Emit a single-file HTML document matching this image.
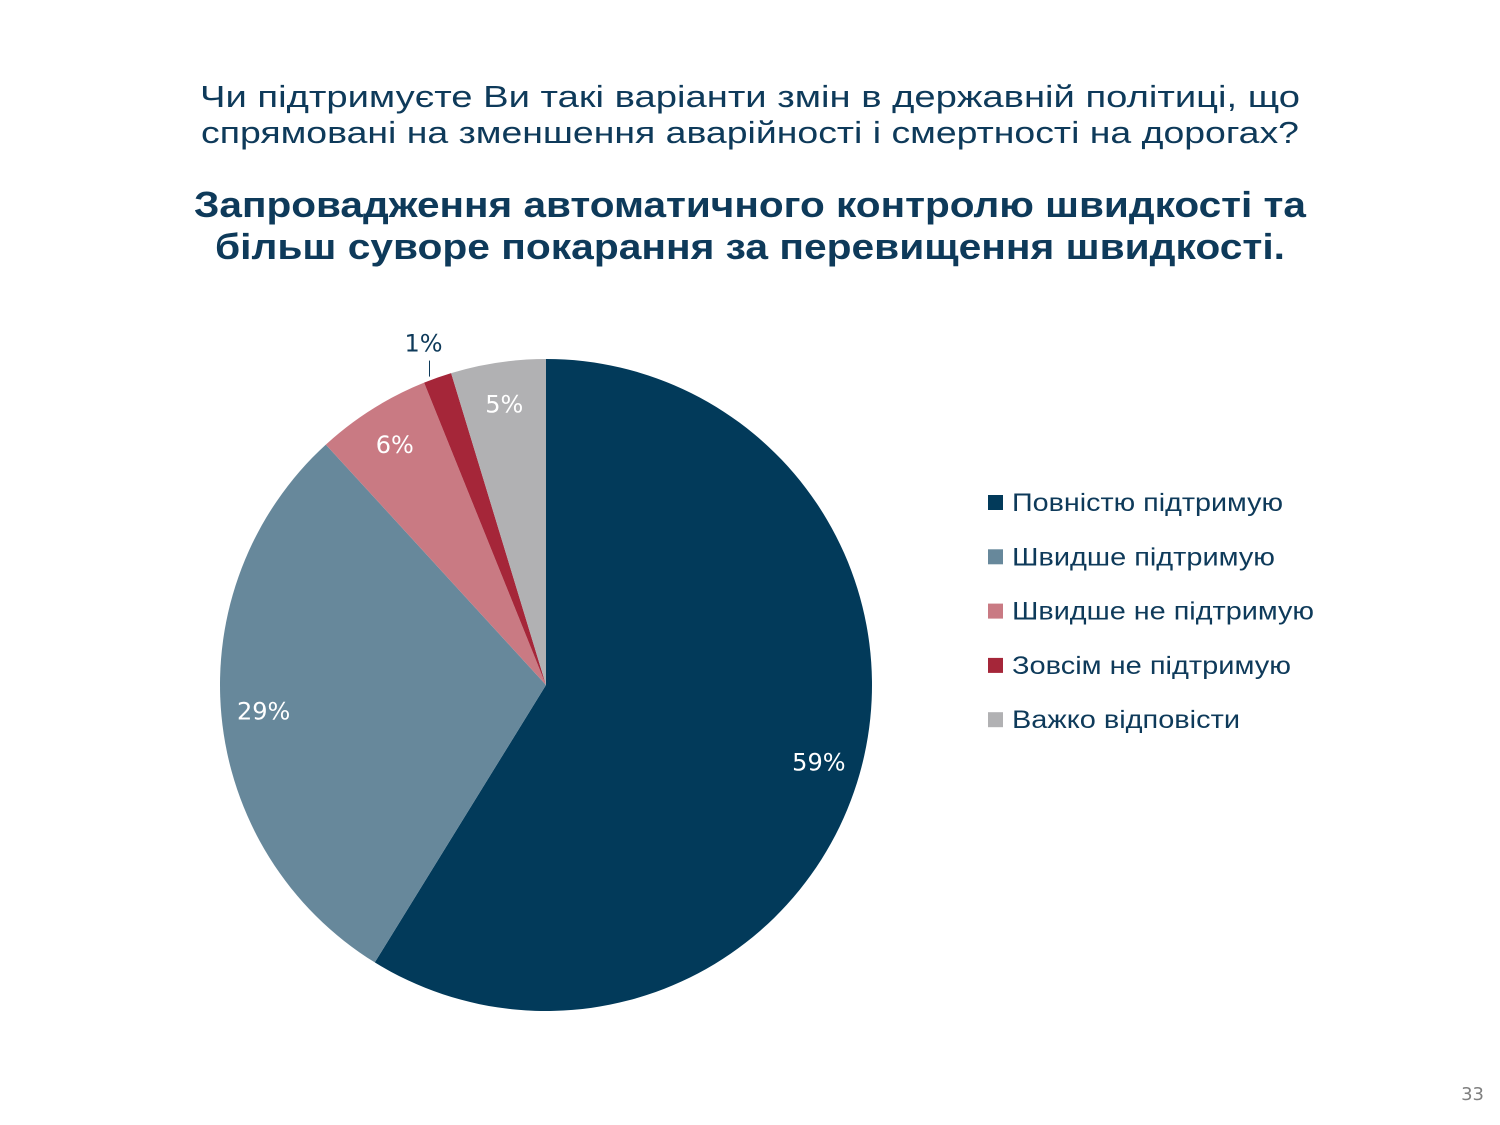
<!DOCTYPE html>
<html><head><meta charset="utf-8"><style>
body{margin:0;background:#fff;}
svg{display:block;font-family:"DejaVu Sans","Liberation Sans",sans-serif;}
</style></head><body>
<svg id="chart" width="1500" height="1125" viewBox="0 0 1500 1125">
<text x="750" y="107" text-anchor="middle" font-size="31" fill="#0E3A5A" font-family="Liberation Sans, sans-serif" textLength="1100" lengthAdjust="spacingAndGlyphs">Чи підтримуєте Ви такі варіанти змін в державній політиці, що</text>
<text x="750" y="143" text-anchor="middle" font-size="31" fill="#0E3A5A" font-family="Liberation Sans, sans-serif" textLength="1098" lengthAdjust="spacingAndGlyphs">спрямовані на зменшення аварійності і смертності на дорогах?</text>
<text x="750" y="217" text-anchor="middle" font-size="36" font-weight="bold" fill="#0E3A5A" font-family="Liberation Sans, sans-serif" textLength="1112" lengthAdjust="spacingAndGlyphs">Запровадження автоматичного контролю швидкості та</text>
<text x="750" y="259" text-anchor="middle" font-size="36" font-weight="bold" fill="#0E3A5A" font-family="Liberation Sans, sans-serif" textLength="1070" lengthAdjust="spacingAndGlyphs">більш суворе покарання за перевищення швидкості.</text>
<g id="slices"></g>
<g id="labels"></g>
<g id="legend"></g>
<text x="1484" y="1100" text-anchor="end" font-size="18" fill="#7F7F7F">33</text>
</svg>
<script>
const categories=["Повністю підтримую","Швидше підтримую","Швидше не підтримую","Зовсім не підтримую","Важко відповісти"];
const values=[58.8,29.4,5.7,1.4,4.7];
const valueLabels=["59%","29%","6%","1%","5%"];
const colors=["#023A5A","#67889B","#C97A83","#A52639","#B1B1B3"];
const legendWidths=[271,263,302,279,228];
const cx=546,cy=685,R=326;
const NS="http://www.w3.org/2000/svg";
const total=values.reduce((a,b)=>a+b,0);
function pt(a,r){return [cx+r*Math.sin(a),cy-r*Math.cos(a)];}
let start=0;
const gs=document.getElementById('slices'),gl=document.getElementById('labels'),gL=document.getElementById('legend');
values.forEach((v,i)=>{
  const ang=v/total*2*Math.PI,end=start+ang;
  const p1=pt(start,R),p2=pt(end,R);
  const path=document.createElementNS(NS,'path');
  path.setAttribute('d',`M${cx},${cy} L${p1[0]},${p1[1]} A${R},${R} 0 ${ang>Math.PI?1:0} 1 ${p2[0]},${p2[1]} Z`);
  path.setAttribute('fill',colors[i]);
  
  
  gs.appendChild(path);
  const mid=start+ang/2;
  const t=document.createElementNS(NS,'text');
  t.setAttribute('text-anchor','middle');
  t.setAttribute('font-size','24');
  if(v<3){
    const e=pt(mid,R);
    const lx=e[0]-8;
    const ln=document.createElementNS(NS,'line');
    ln.setAttribute('x1',lx);ln.setAttribute('y1',e[1]-1);
    ln.setAttribute('x2',lx);ln.setAttribute('y2',e[1]-17);
    ln.setAttribute('stroke','#0E3A5A');ln.setAttribute('stroke-width','1');
    
    
    gl.appendChild(ln);
    t.setAttribute('x',lx-6);t.setAttribute('y',e[1]-26);
    t.setAttribute('fill','#0E3A5A');
  } else {
    const p=pt(mid,R*0.87);
    t.setAttribute('x',p[0]);t.setAttribute('y',p[1]+8);
    t.setAttribute('fill','#fff');
  }
  t.textContent=valueLabels[i];
  
  
  gl.appendChild(t);
  const y=502+i*54.3;
  const r=document.createElementNS(NS,'rect');
  r.setAttribute('x',988);r.setAttribute('y',y-7);r.setAttribute('width',15);r.setAttribute('height',15);
  r.setAttribute('fill',colors[i]);
  
  
  gL.appendChild(r);
  const lt=document.createElementNS(NS,'text');
  lt.setAttribute('x',1012);lt.setAttribute('y',y+9);
  lt.setAttribute('font-size','25');lt.setAttribute('fill','#0E3A5A');
  lt.setAttribute('font-family','Liberation Sans, sans-serif');
  lt.setAttribute('textLength',legendWidths[i]);
  lt.setAttribute('lengthAdjust','spacingAndGlyphs');
  lt.textContent=categories[i];
  
  
  gL.appendChild(lt);
  start=end;
});
</script>
</body></html>
